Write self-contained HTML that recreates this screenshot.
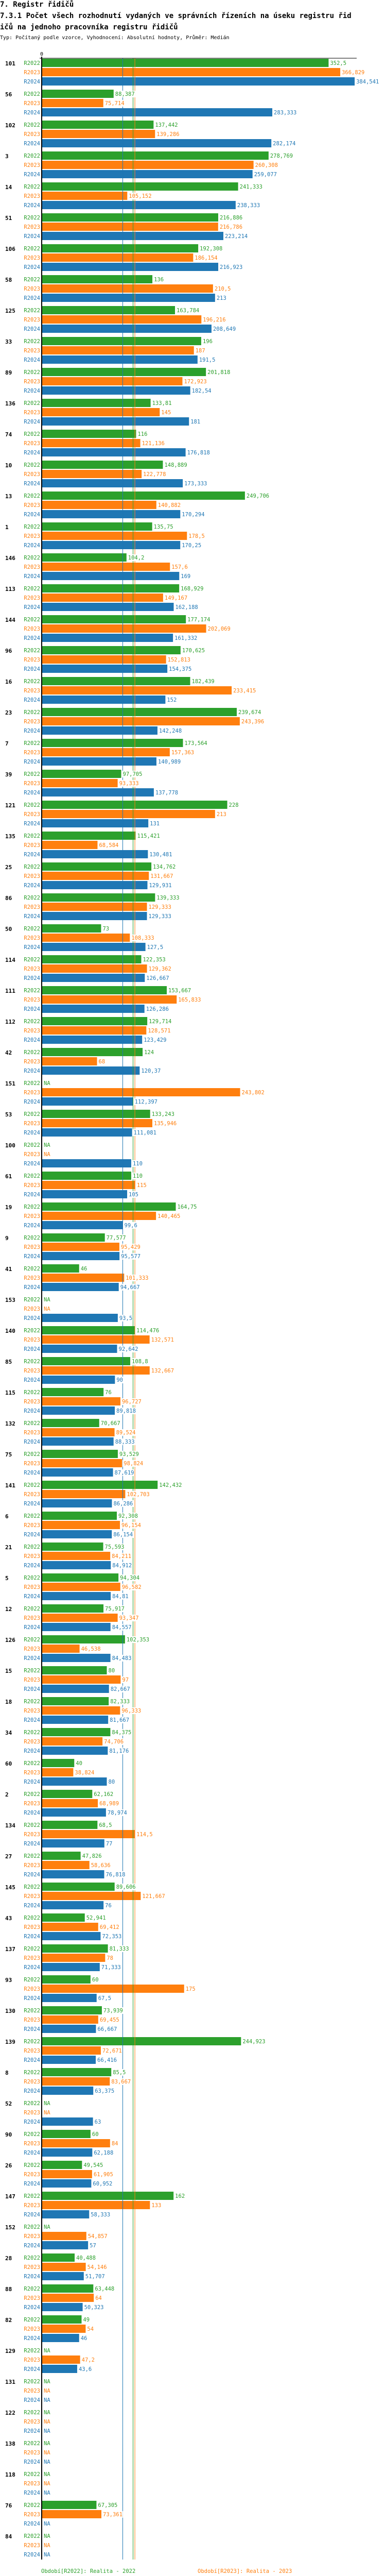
<!DOCTYPE html>
<html style="overflow:hidden"><head><meta charset="utf-8">
<style>
html,body{margin:0;padding:0;background:#fff;overflow:hidden;}
svg{position:fixed;left:0;top:0;display:block;font-family:"DejaVu Sans Mono","Liberation Mono",monospace;}
</style></head>
<body>
<svg id="chart" width="750" height="5094" viewBox="0 0 750 5094" xmlns="http://www.w3.org/2000/svg">
<text x="0" y="13" font-size="14" font-weight="bold">7. Registr řidičů</text>
<text x="0" y="35" font-size="14" font-weight="bold">7.3.1 Počet všech rozhodnutí vydaných ve správních řízeních na úseku registru řid</text>
<text x="0" y="57" font-size="14" font-weight="bold">ičů na jednoho pracovníka registru řidičů</text>
<text x="0" y="76" font-size="10">Typ: Počítaný podle vzorce, Vyhodnocení: Absolutní hodnoty, Průměr: Medián</text>
</svg>
<script>
const categories=["101","56","102","3","14","51","106","58","125","33","89","136","74","10","13","1","146","113","144","96","16","23","7","39","121","135","25","86","50","114","111","112","42","151","53","100","61","19","9","41","153","140","85","115","132","75","141","6","21","5","12","126","15","18","34","60","2","134","27","145","43","137","93","130","139","8","52","90","26","147","152","28","88","82","129","131","122","138","118","76","84"];
const r2022=[352.5,88.387,137.442,278.769,241.333,216.886,192.308,136,163.784,196,201.818,133.81,116,148.889,249.706,135.75,104.2,168.929,177.174,170.625,182.439,239.674,173.564,97.705,228,115.421,134.762,139.333,73,122.353,153.667,129.714,124,null,133.243,null,110,164.75,77.577,46,null,114.476,108.8,76,70.667,93.529,142.432,92.308,75.593,94.304,75.917,102.353,80,82.333,84.375,40,62.162,68.5,47.826,89.606,52.941,81.333,60,73.939,244.923,85.5,null,60,49.545,162,null,40.488,63.448,49,null,null,null,null,null,67.305,null];
const r2023=[366.829,75.714,139.286,260.308,105.152,216.786,186.154,210.5,196.216,187,172.923,145,121.136,122.778,140.882,178.5,157.6,149.167,202.069,152.813,233.415,243.396,157.363,93.333,213,68.584,131.667,129.333,108.333,129.362,165.833,128.571,68,243.802,135.946,null,115,140.465,95.429,101.333,null,132.571,132.667,96.727,89.524,98.824,102.703,96.154,84.211,96.582,93.347,46.538,97,96.333,74.706,38.824,68.989,114.5,58.636,121.667,69.412,78,175,69.455,72.671,83.667,null,84,61.905,133,54.857,54.146,64,54,47.2,null,null,null,null,73.361,null];
const r2024=[384.541,283.333,282.174,259.077,238.333,223.214,216.923,213,208.649,191.5,182.54,181,176.818,173.333,170.294,170.25,169,162.188,161.332,154.375,152,142.248,140.989,137.778,131,130.481,129.931,129.333,127.5,126.667,126.286,123.429,120.37,112.397,111.081,110,105,99.6,95.577,94.667,93.5,92.642,90,89.818,88.333,87.619,86.286,86.154,84.912,84.81,84.557,84.483,82.667,81.667,81.176,80,78.974,77,76.818,76,72.353,71.333,67.5,66.667,66.416,63.375,63,62.188,60.952,58.333,57,51.707,50.323,46,43.6,null,null,null,null,null,null];
const seriesNames=["R2022","R2023","R2024"];
const medians=[112.238,114.5,99.6];
const mins=["40","38,824","43,6"];
const maxs=["352,5","366,829","384,541"];
const medLabels=["112,238","114,5","99,6"];
const periodLabels=["Období[R2022]: Realita - 2022","Období[R2023]: Realita - 2023","Období[R2024]: Realita - 2024"];

const colors=["#2ca02c","#ff7f0e","#1f77b4"];
const svg=document.getElementById('chart');
const NS="http://www.w3.org/2000/svg";
const X0=81, XMAX=387, XW=612, TOP=114, GP=60, RP=18, BH=16;
const xs=v=>X0+v/XMAX*XW;
const gy=g=>TOP+g*GP;
const allSeries=[r2022,r2023,r2024];
function el(tag,attrs,txt){const e=document.createElementNS(NS,tag);for(const k in attrs)e.setAttribute(k,attrs[k]);if(txt!==undefined)e.textContent=txt;svg.appendChild(e);return e;}
const fmt=v=>String(v).replace('.',',');
const bottom=gy(categories.length)-6;

categories.forEach((c,g)=>{
  const t=el('text',{x:10,y:gy(g)+13,'font-size':11,'font-weight':'bold',fill:'#000'},c);
  
  
  allSeries.forEach((s,i)=>{
    const y=gy(g)+i*RP;
    const lab=el('text',{x:78,y:y+12,'font-size':10.5,'text-anchor':'end',fill:colors[i]},seriesNames[i]);
    
    
    const v=s[g];
    if(v===null){
      const na=el('text',{x:85,y:y+12,'font-size':10.5,fill:colors[i]},'NA');
      
      
    }else{
      const r=el('rect',{x:X0,y:y,width:xs(v)-X0,height:BH,fill:colors[i]});
      
      
    }
  });
});
medians.forEach((m,i)=>{
  const l=el('line',{x1:xs(m),x2:xs(m),y1:TOP-1,y2:bottom,stroke:colors[i],'stroke-width':1});
  
  
});
categories.forEach((c,g)=>{
  allSeries.forEach((s,i)=>{
    const v=s[g]; if(v===null) return;
    const y=gy(g)+i*RP;
    const txt=fmt(v);
    const bg=el('rect',{x:xs(v)+1,y:y+2,width:txt.length*6.3+3,height:13,fill:'#fff'});
    
    
    const t=el('text',{x:xs(v)+3,y:y+12,'font-size':10.5,fill:colors[i]},txt);
    
    
  });
});
const ax=el('line',{x1:X0,x2:X0,y1:TOP-4,y2:bottom,stroke:'#000','stroke-width':2});


const tx=el('line',{x1:X0-4,x2:X0+XW,y1:TOP-1,y2:TOP-1,stroke:'#000','stroke-width':1});


const z=el('text',{x:X0,y:TOP-6,'font-size':10,'text-anchor':'middle',fill:'#000'},'0');



const LY=bottom+26;
const lp=[[80,LY],[384,LY],[80,LY+20]];
periodLabels.forEach((p,i)=>{
  const t=el('text',{x:lp[i][0],y:lp[i][1],'font-size':10.5,fill:colors[i]},p);
  
  
});
medLabels.forEach((m,i)=>{
  const y=LY+40+i*20;
  const a=el('text',{x:80,y:y,'font-size':10.5,fill:colors[i]},'Medián: '+m);
  
  
  const b=el('text',{x:333,y:y,'font-size':10.5,fill:colors[i]},'Min: '+mins[i]);
  
  
  const d=el('text',{x:536,y:y,'font-size':10.5,fill:colors[i]},'Max: '+maxs[i]);
  
  
});
</script>
</body></html>
